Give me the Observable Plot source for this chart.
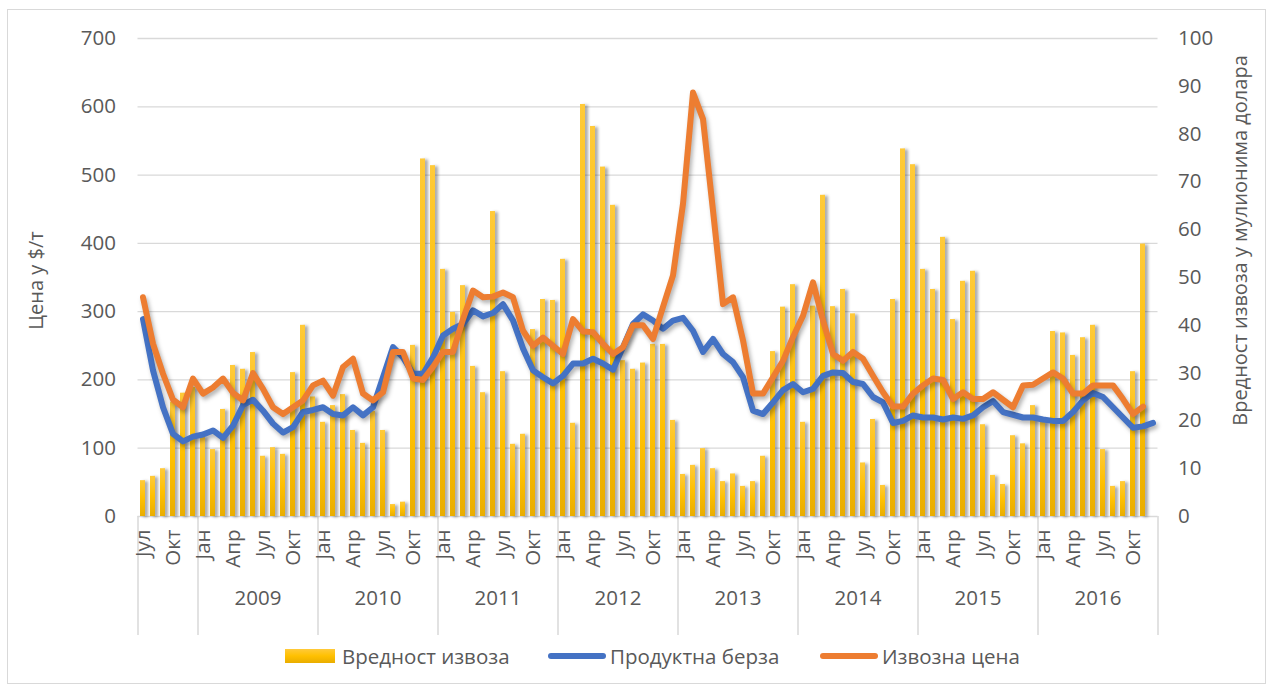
<!DOCTYPE html>
<html>
<head>
<meta charset="utf-8">
<script src="https://cdn.jsdelivr.net/npm/d3@7"></script>
<script src="https://cdn.jsdelivr.net/npm/@observablehq/plot@0.6"></script>
<style>
  body { margin: 0; background: #fff; font-family: "Open Sans", sans-serif; }
  #wrap { position: relative; width: 1273px; height: 686px; overflow: hidden; background: #fff; }
  #frame { position: absolute; left: 7px; top: 9px; width: 1259px; height: 675px; border: 1px solid #d9d9d9; box-sizing: border-box; }
  #chart { position: absolute; left: 0; top: 0; }
  #chart svg g[aria-label="bar"] { filter: drop-shadow(3px 1px 1.5px rgba(0,0,0,0.33)); }
  #chart svg g[aria-label="line"] { filter: drop-shadow(2px 3px 2px rgba(0,0,0,0.3)); }
  .leg { position: absolute; top: 643px; height: 26px; display: flex; align-items: center; font-size: 20.5px; color: #595959; white-space: nowrap; }
  .sw-bar { width: 50px; height: 14px; background: linear-gradient(#ffca3a, #ffc000 50%, #e9ad00); margin-right: 7px; }
  .sw-line { width: 58px; height: 6px; border-radius: 3px; margin-right: 4px; }
</style>
</head>
<body>
<div id="wrap">
  <div id="frame"></div>
  <div id="chart"></div>
  <div class="leg" style="left:285px"><div class="sw-bar"></div>Вредност извоза</div>
  <div class="leg" style="left:548px"><div class="sw-line" style="background:#4472c4"></div>Продуктна берза</div>
  <div class="leg" style="left:820px"><div class="sw-line" style="background:#ed7d31"></div>Извозна цена</div>
</div>
<script>
// Categories: months from Jul 2008 to Dec 2016
const firstYear = 2008, firstMonth = 7, lastYear = 2016;
const years = [2009, 2010, 2011, 2012, 2013, 2014, 2015, 2016];
const tickMonthNumbers = [1, 4, 7, 10];
const tickMonthNames = ["Јан", "Апр", "Јул", "Окт"];

// Вредност извоза (million $), right axis
const exportValue = [
  7.5, 8.4, 10.0, 23.9, 25.8, 27,
  16.6, 14.0, 22.4, 31.6, 30.8, 34.3, 12.6, 14.4, 13.0, 30.1, 40.0, 25,
  19.7, 23.2, 25.5, 18.0, 15.3, 22, 18.0, 2.5, 3.0, 35.8, 74.8, 73.4,
  51.7, 42.7, 48.3, 31.4, 25.9, 63.8, 30.3, 15.1, 17.2, 39.1, 45.4, 45.2,
  53.8, 19.5, 86.2, 81.6, 73.1, 65.1, 32.6, 30.8, 32.1, 36, 36.0, 20.1,
  8.8, 10.7, 14.2, 10.0, 7.3, 8.9, 6.3, 7.3, 12.6, 34.5, 43.8, 48.5,
  19.7, 44, 67.2, 43.9, 47.5, 42.4, 11.2, 20.3, 6.5, 45.4, 76.9, 73.6,
  51.7, 47.5, 58.4, 41.2, 49.2, 51.3, 19.2, 8.6, 6.7, 16.9, 15.2, 23.2,
  20, 38.7, 38.4, 33.7, 37.4, 40.0, 14.0, 6.3, 7.3, 30.3, 57.0, null
];

// Продуктна берза ($/t), left axis
const exchangePrice = [
  289, 214, 160, 121, 110, 117,
  120, 126, 115, 133, 163, 171, 155, 136, 123, 131, 153, 156,
  160, 150, 148, 160, 148, 160, 204, 248, 233, 209, 209, 233,
  265, 275, 282, 302, 293, 298, 311, 287, 246, 214, 204, 195,
  206, 224, 224, 231, 224, 215, 248, 282, 296, 287, 275, 287,
  291, 272, 241, 260, 238, 226, 204, 155, 150, 167, 185, 194,
  182, 187, 206, 211, 210, 197, 194, 175, 167, 137, 140, 148,
  145, 145, 142, 145, 143, 148, 160, 169, 153, 149, 145, 145,
  142, 140, 140, 153, 170, 181, 175, 160, 145, 130, 132, 137
];

// Извозна цена ($/t), left axis
const exportPrice = [
  321, 253, 209, 171, 160, 202,
  180, 189, 202, 181, 170, 210, 187, 160, 150, 160, 170, 192,
  199, 177, 219, 231, 180, 170, 182, 241, 241, 202, 200, 219,
  241, 241, 289, 331, 321, 322, 328, 321, 272, 250, 262, 250,
  238, 289, 271, 270, 253, 238, 248, 280, 280, 260, 307, 353,
  458, 621, 582, 448, 311, 321, 258, 180, 180, 204, 228, 263,
  294, 343, 287, 238, 228, 241, 231, 206, 182, 161, 161, 180,
  192, 202, 200, 172, 182, 172, 172, 182, 171, 160, 192, 193,
  202, 211, 202, 180, 180, 192, 192, 192, 172, 150, 161, null
];

const leftTicks = [0, 100, 200, 300, 400, 500, 600, 700];
const rightTicks = [0, 10, 20, 30, 40, 50, 60, 70, 80, 90, 100];
const leftMax = 700, rightMax = 100;

const key = (y, m) => `${y}-${String(m).padStart(2, "0")}`;
const months = [];
for (let y = firstYear, m = firstMonth; y < lastYear || (y === lastYear && m <= 12); m === 12 ? (y++, m = 1) : m++) months.push({year: y, month: m, key: key(y, m)});
const domain = months.map(d => d.key);
const data = months.map((d, i) => ({...d, value: exportValue[i], berza: exchangePrice[i], cena: exportPrice[i]}));
const k = leftMax / rightMax;

const tickKeys = months.filter(d => tickMonthNumbers.includes(d.month)).map(d => d.key);
const tickName = new Map(months.map(d => [d.key, tickMonthNames[tickMonthNumbers.indexOf(d.month)]]));
const groupStarts = [domain[0], ...years.map(y => key(y, 1))];

const textColor = "#595959";
const fs = 20.5;
const svg = Plot.plot({
  width: 1273,
  height: 640,
  marginTop: 38,
  marginBottom: 124,
  marginLeft: 137.5,
  marginRight: 115.5,
  style: {fontFamily: "Open Sans, sans-serif", fontSize: fs + "px", color: textColor, background: "transparent", overflow: "visible"},
  x: {type: "band", domain, paddingInner: 0.5, paddingOuter: 0.25},
  y: {domain: [0, leftMax]},
  marks: [
    Plot.gridY(leftTicks, {stroke: "#d9d9d9", strokeOpacity: 1, strokeWidth: 1.3}),
    Plot.ruleX(groupStarts, {x: d => d, dx: -5, stroke: "#d9d9d9", strokeWidth: 1.5, insetTop: 478, insetBottom: -119}),
    Plot.ruleX([domain[domain.length - 1]], {x: d => d, dx: 5, stroke: "#d9d9d9", strokeWidth: 1.5, insetTop: 478, insetBottom: -119}),
    Plot.barY(data.filter(d => d.value != null), {x: "key", y: d => d.value * k, fill: "url(#barGrad)"}),
    Plot.lineY(data.filter(d => d.berza != null), {x: "key", y: "berza", stroke: "#4472c4", strokeWidth: 6, strokeLinejoin: "round", strokeLinecap: "round"}),
    Plot.lineY(data.filter(d => d.cena != null), {x: "key", y: "cena", stroke: "#ed7d31", strokeWidth: 6, strokeLinejoin: "round", strokeLinecap: "round"}),
    Plot.axisY(leftTicks, {anchor: "left", tickSize: 0, tickPadding: 22, label: null, fontSize: fs}),
    Plot.axisY(rightTicks.map(v => v * k), {anchor: "right", tickSize: 0, tickPadding: 20, tickFormat: d => String(Math.round(d / k)), label: null, fontSize: fs}),
    Plot.axisX(tickKeys, {anchor: "bottom", tickSize: 0, tickPadding: 13, tickRotate: -90, tickFormat: d => tickName.get(d), label: null, fontSize: fs}),
    Plot.text(years, {x: y => key(y, 7), text: y => String(y), frameAnchor: "bottom", dx: -5, dy: 88, fontSize: fs, fill: textColor}),
    Plot.text(["Цена у $/т"], {text: d => d, frameAnchor: "left", textAnchor: "middle", dx: -101, dy: 3, rotate: -90, fontSize: 20, fill: textColor}),
    Plot.text(["Вредност извоза у мулионима долара"], {text: d => d, frameAnchor: "right", textAnchor: "middle", dx: 83, dy: -37, rotate: -90, fontSize: 20, fill: textColor})
  ]
});

const defs = d3.select(svg).insert("defs", ":first-child");
const grad = defs.append("linearGradient").attr("id", "barGrad").attr("x1", 0).attr("y1", 0).attr("x2", 0).attr("y2", 1);
grad.append("stop").attr("offset", "0%").attr("stop-color", "#ffca3a");
grad.append("stop").attr("offset", "50%").attr("stop-color", "#ffc000");
grad.append("stop").attr("offset", "100%").attr("stop-color", "#e9ad00");

document.getElementById("chart").appendChild(svg);
</script>
</body>
</html>
